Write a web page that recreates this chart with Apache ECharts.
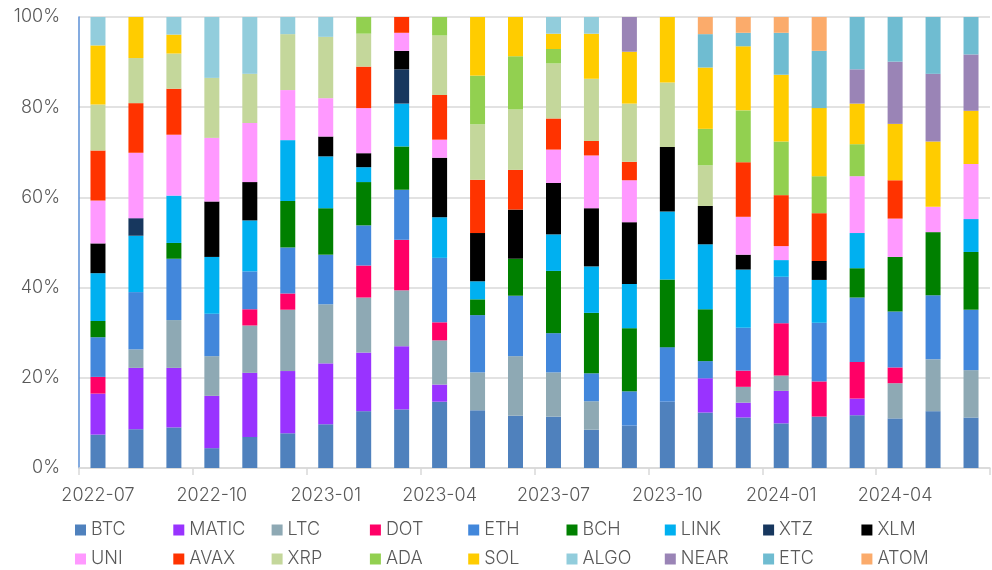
<!DOCTYPE html>
<html>
<head>
<meta charset="utf-8">
<script src="https://cdn.jsdelivr.net/npm/echarts@6/dist/echarts.min.js"></script>
<style>
  html, body { margin: 0; padding: 0; background: #fff; }
  #chart { width: 992px; height: 570px; }
</style>
</head>
<body>
<div id="chart"></div>
<script>
const months = ['2022-07','2022-08','2022-09','2022-10','2022-11','2022-12',
  '2023-01','2023-02','2023-03','2023-04','2023-05','2023-06',
  '2023-07','2023-08','2023-09','2023-10','2023-11','2023-12',
  '2024-01','2024-02','2024-03','2024-04','2024-05','2024-06'];

const coins = ['BTC','MATIC','LTC','DOT','ETH','BCH','LINK','XTZ','XLM',
  'UNI','AVAX','XRP','ADA','SOL','ALGO','NEAR','ETC','ATOM'];

const BTC   = [7.4, 8.6, 9.0, 4.4, 6.9, 7.7, 9.7, 12.6, 13.0, 14.7, 12.8, 11.6, 11.4, 8.5, 9.4, 14.7, 12.3, 11.2, 9.9, 11.4, 11.7, 11.0, 12.6, 11.2];
const MATIC = [9.1, 13.6, 13.2, 11.6, 14.2, 13.8, 13.5, 13.0, 14.0, 3.8, 0, 0, 0, 0, 0, 0, 7.6, 3.3, 7.2, 0, 3.7, 0, 0, 0];
const LTC   = [0, 4.1, 10.6, 8.8, 10.5, 13.6, 13.1, 12.2, 12.4, 9.8, 8.4, 13.2, 9.8, 6.3, 0, 0, 0, 3.5, 3.4, 0, 0, 7.8, 11.5, 10.5];
const DOT   = [3.7, 0, 0, 0, 3.6, 3.6, 0, 7.1, 11.2, 4.0, 0, 0, 0, 0, 0, 0, 0, 3.6, 11.6, 7.8, 8.1, 3.5, 0, 0];
const ETH   = [8.8, 12.7, 13.6, 9.4, 8.4, 10.2, 11.0, 8.9, 11.1, 14.3, 12.7, 13.4, 8.7, 6.2, 7.6, 12.1, 3.8, 9.5, 10.3, 13.0, 14.3, 12.4, 14.2, 13.4];
const BCH   = [3.6, 0, 3.5, 0, 0, 10.3, 10.3, 9.6, 9.6, 0, 3.5, 8.2, 13.8, 13.4, 14.0, 15.0, 11.5, 0, 0, 0, 6.5, 12.1, 14.0, 12.8];
const LINK  = [10.6, 12.5, 10.5, 12.6, 11.3, 13.5, 11.5, 3.3, 9.5, 9.0, 4.0, 0, 8.1, 10.3, 9.8, 15.1, 14.4, 12.9, 3.7, 9.5, 7.8, 0, 0, 7.3];
const XTZ   = [0, 3.9, 0, 0, 0, 0, 0, 0, 7.6, 0, 0, 0, 0, 0, 0, 0, 0, 0, 0, 0, 0, 0, 0, 0];
const XLM   = [6.6, 0, 0, 12.3, 8.5, 0, 4.4, 3.1, 4.1, 13.2, 10.7, 10.9, 11.4, 12.9, 13.7, 14.3, 8.5, 3.3, 0, 4.2, 0, 0, 0, 0];
const UNI   = [9.5, 14.5, 13.5, 14.1, 13.1, 11.1, 8.5, 10.0, 4.0, 4.0, 0, 0, 7.4, 11.7, 9.3, 0, 0, 8.4, 3.1, 0, 12.6, 8.5, 5.6, 12.2];
const AVAX  = [11.1, 11.0, 10.2, 0, 0, 0, 0, 9.2, 3.5, 9.9, 11.8, 8.8, 6.9, 3.2, 4.1, 0, 0, 12.1, 11.3, 10.6, 0, 8.5, 0, 0];
const XRP   = [10.2, 10.0, 7.8, 13.3, 10.9, 12.4, 13.6, 7.3, 0, 13.2, 12.3, 13.4, 12.2, 13.8, 12.9, 14.3, 9.0, 0, 0, 0, 0, 0, 0, 0];
const ADA   = [0, 0, 0, 0, 0, 0, 0, 3.7, 0, 4.1, 10.8, 11.8, 3.2, 0, 0, 0, 8.1, 11.5, 11.9, 8.2, 7.1, 0, 0, 0];
const SOL   = [13.1, 9.1, 4.2, 0, 0, 0, 0, 0, 0, 0, 13.0, 8.7, 3.4, 10.0, 11.5, 14.5, 13.6, 14.2, 14.8, 15.1, 9.0, 12.5, 14.5, 11.8];
const ALGO  = [6.3, 0, 3.9, 13.5, 12.6, 3.8, 4.4, 0, 0, 0, 0, 0, 3.7, 3.7, 0, 0, 0, 0, 0, 0, 0, 0, 0, 0];
const NEAR  = [0, 0, 0, 0, 0, 0, 0, 0, 0, 0, 0, 0, 0, 0, 7.7, 0, 0, 0, 0, 0, 7.6, 13.8, 15.0, 12.5];
const ETC   = [0, 0, 0, 0, 0, 0, 0, 0, 0, 0, 0, 0, 0, 0, 0, 0, 7.4, 3.0, 9.3, 12.7, 11.6, 9.9, 12.6, 8.3];
const ATOM  = [0, 0, 0, 0, 0, 0, 0, 0, 0, 0, 0, 0, 0, 0, 0, 0, 3.8, 3.5, 3.5, 7.5, 0, 0, 0, 0];

const seriesValues = [BTC, MATIC, LTC, DOT, ETH, BCH, LINK, XTZ, XLM, UNI, AVAX, XRP, ADA, SOL, ALGO, NEAR, ETC, ATOM];

const colors = ['#4f81bd','#9933ff','#8ea9b4','#ff0066','#4287db','#008000','#00b0f0','#17375e','#000000',
  '#ff99ff','#ff3300','#c4d79b','#92d050','#ffcc00','#92cddc','#9a84b6','#6fbcd1','#fbab6b'];

const yTicks = [0, 20, 40, 60, 80, 100];

const FONT = 'Inter';
const WEIGHT = 300;
const TXT = '#595959';

const legends = coins.map((name, i) => ({
  data: [name],
  left: 75 + (i % 9) * 98.3,
  top: i < 9 ? 521 : 550,
  padding: 0,
  icon: 'rect',
  itemWidth: 11,
  itemHeight: 11,
  itemGap: 0,
  textStyle: { fontFamily: FONT, fontWeight: WEIGHT, fontSize: 18, color: TXT }
}));

const chart = echarts.init(document.getElementById('chart'), null, { renderer: 'canvas' });
chart.setOption({
  animation: false,
  color: colors,
  textStyle: { fontFamily: FONT },
  grid: { left: 79, right: 2, top: 17, bottom: 102, containLabel: false },
  legend: legends,
  xAxis: {
    type: 'category',
    data: months,
    boundaryGap: true,
    axisLine: { show: true, lineStyle: { color: '#d9d9d9', width: 1.5 } },
    axisTick: { show: true, interval: 2, alignWithLabel: false, length: 7, lineStyle: { color: '#d9d9d9', width: 1.5 } },
    axisLabel: { interval: 2, margin: 19, fontFamily: FONT, fontWeight: WEIGHT, fontSize: 18, color: TXT }
  },
  yAxis: {
    type: 'value',
    min: yTicks[0],
    max: yTicks[yTicks.length - 1],
    interval: 20,
    axisLine: { show: true, lineStyle: { color: '#5b8fd6', width: 1.5 } },
    axisTick: { show: false },
    splitLine: { show: true, lineStyle: { color: '#d9d9d9', width: 1.5 } },
    axisLabel: { formatter: '{value}%', margin: 19, fontFamily: FONT, fontWeight: WEIGHT, fontSize: 18, color: TXT }
  },
  series: coins.map((name, i) => ({
    name: name,
    type: 'bar',
    stack: 'total',
    barWidth: 15,
    data: seriesValues[i],
    itemStyle: { color: colors[i] }
  }))
});
</script>
</body>
</html>
